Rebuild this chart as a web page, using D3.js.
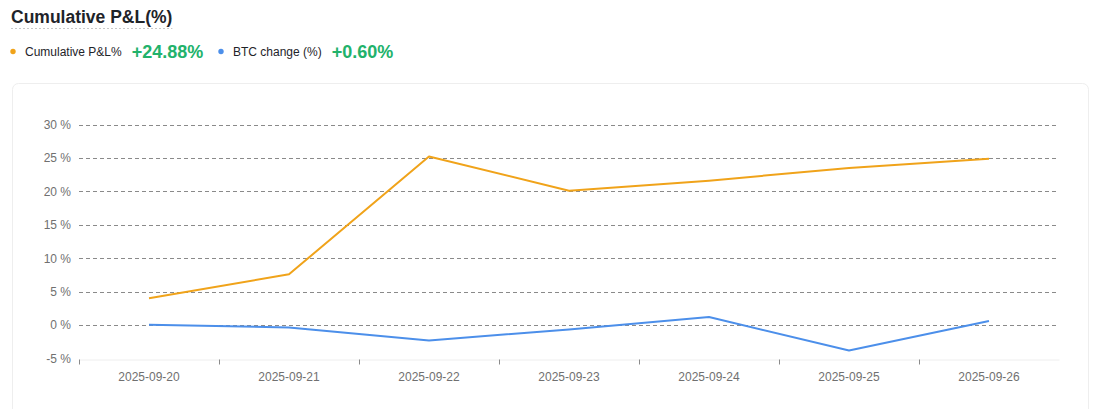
<!DOCTYPE html>
<html><head><meta charset="utf-8">
<script src="https://cdn.jsdelivr.net/npm/d3@7"></script>
<style>
html,body{margin:0;padding:0;background:#fff;}
svg{display:block;font-family:"Liberation Sans",Arial,sans-serif;}
</style></head>
<body>
<svg id="chart" width="1100" height="409"></svg>
<script>
const categories = ["2025-09-20","2025-09-21","2025-09-22","2025-09-23","2025-09-24","2025-09-25","2025-09-26"];
const pnlValues = [4.0, 7.6, 25.2, 20.1, 21.6, 23.5, 24.88];
const btcValues = [0.05, -0.35, -2.3, -0.65, 1.2, -3.8, 0.60];
const yTicks = [-5, 0, 5, 10, 15, 20, 25, 30];
const seriesNames = ["Cumulative P&L%", "BTC change (%)"];
const seriesTotals = ["+24.88%", "+0.60%"];
const title = "Cumulative P&L(%)";

(function () {
const orange = "#F0A31A", blue = "#4C8FEA", green = "#22B26B";
const svg = d3.select("#chart");

// title
const t = svg.append("text").attr("x", 11).attr("y", 23)
  .attr("font-size", 17.5).attr("font-weight", "bold").attr("fill", "#1e2329").text(title);
const tw = t.node().getComputedTextLength();
svg.append("line").attr("x1", 11).attr("x2", 11 + tw).attr("y1", 28.5).attr("y2", 28.5)
  .attr("stroke", "#c8c8c8").attr("stroke-dasharray", "2,2");

// legend
const leg = [{x: 13, c: orange}, {x: 221, c: blue}];
leg.forEach((l, i) => {
  svg.append("circle").attr("cx", l.x).attr("cy", 51.5).attr("r", 2.7).attr("fill", l.c);
  const lt = svg.append("text").attr("x", l.x + 12).attr("y", 56).attr("font-size", 12)
    .attr("fill", "#1e2329").text(seriesNames[i]);
  const w = lt.node().getComputedTextLength();
  svg.append("text").attr("x", l.x + 12 + w + 10).attr("y", 57.5).attr("font-size", 18)
    .attr("font-weight", "bold").attr("fill", green).text(seriesTotals[i]);
});

// card
svg.append("rect").attr("x", 12.5).attr("y", 83.5).attr("width", 1076).attr("height", 340)
  .attr("rx", 6).attr("fill", "#fff").attr("stroke", "#eeeeee");

const pL = 79, pR = 1059, pT = 124.5, pB = 358.5;
const x = d3.scaleBand().domain(categories).range([pL, pR]);
const y = d3.scaleLinear().domain([-5, 30]).range([pB, pT]);

// grid
svg.append("g").selectAll("line").data(yTicks.filter(d => d > -5)).join("line")
  .attr("x1", pL).attr("x2", pR)
  .attr("y1", d => Math.round(y(d)) + 0.5).attr("y2", d => Math.round(y(d)) + 0.5)
  .attr("stroke", "#8a8a8a").attr("stroke-dasharray", "4,3");

// y axis labels
const ya = svg.append("g").attr("transform", `translate(${pL},0)`)
  .call(d3.axisLeft(y).tickValues(yTicks).tickFormat(d => d + " %").tickSize(0).tickPadding(8));
ya.select(".domain").remove();
ya.selectAll("text").attr("font-size", 12).attr("fill", "#707070")
  .attr("font-family", "Liberation Sans, Arial, sans-serif");

// x axis
const xa = svg.append("g").attr("transform", `translate(0,${Math.round(pB) + 0.5})`)
  .call(d3.axisBottom(x).tickSize(0).tickPadding(13));
xa.select(".domain").attr("stroke", "#eeeeee");
xa.selectAll("text").attr("font-size", 12).attr("fill", "#707070")
  .attr("font-family", "Liberation Sans, Arial, sans-serif");
// boundary ticks
const bounds = categories.map(c => x(c));
xa.selectAll(".btick").data(bounds).join("line").attr("class", "btick")
  .attr("x1", d => Math.round(d) + 0.5).attr("x2", d => Math.round(d) + 0.5)
  .attr("y1", 0).attr("y2", 5).attr("stroke", "#8a8a8a");

const line = d3.line().x((d, i) => x(categories[i]) + x.bandwidth() / 2).y(d => y(d));
svg.append("path").datum(pnlValues).attr("d", line).attr("fill", "none")
  .attr("stroke", orange).attr("stroke-width", 2).attr("stroke-linejoin", "round");
svg.append("path").datum(btcValues).attr("d", line).attr("fill", "none")
  .attr("stroke", blue).attr("stroke-width", 2).attr("stroke-linejoin", "round");
})();
</script>
</body></html>
